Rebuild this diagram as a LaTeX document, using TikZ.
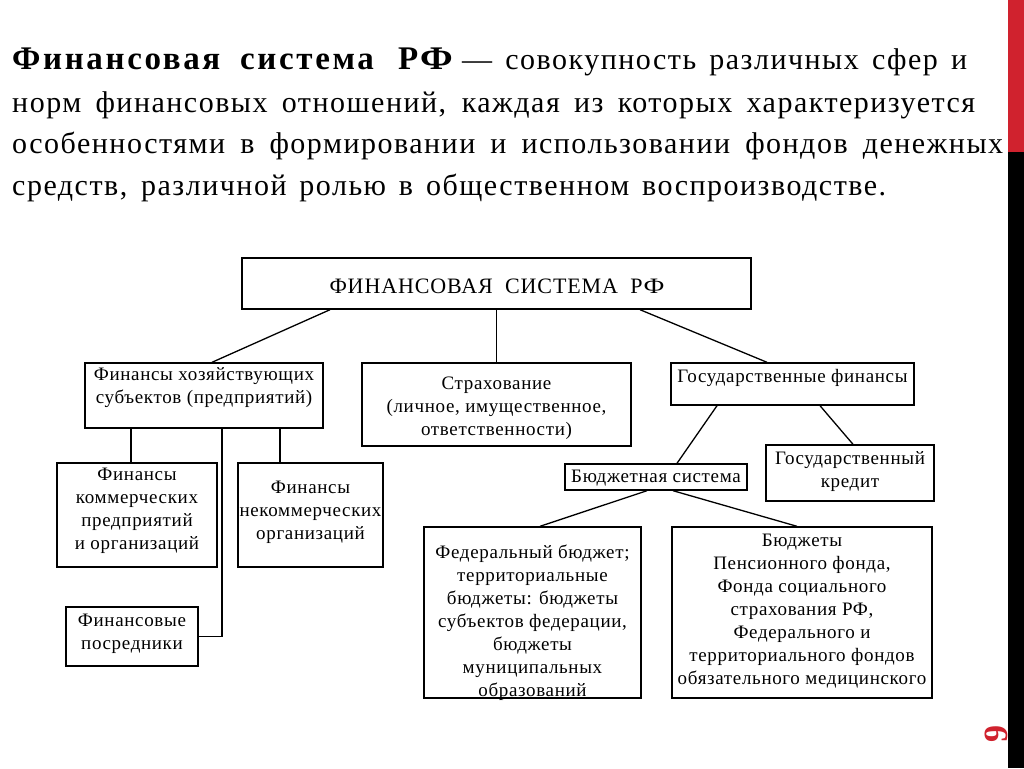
\documentclass[tikz,border=0pt]{standalone}
\usepackage{fontspec}
\usepackage{graphicx}
\setmainfont{Liberation Serif}
\newfontfamily\boxfont[LetterSpace=3.5]{Liberation Serif}
\newfontfamily\titfont[LetterSpace=4]{Liberation Serif}
\newfontfamily\hdfont[LetterSpace=5]{Liberation Serif}
\newfontfamily\hdbold[LetterSpace=8]{Liberation Serif Bold}
\definecolor{barred}{RGB}{208,34,46}
\begin{document}
\begin{tikzpicture}[x=1pt,y=-1pt,
  bx/.style={draw=black, line width=1.4pt, inner sep=0pt, rectangle},
  tx/.style={font=\boxfont\fontsize{19}{23}\selectfont, align=center, inner sep=0pt, text=black},
  hd/.style={anchor=base west, inner sep=0pt, font=\hdfont\fontsize{30}{30}\selectfont},
  hb/.style={anchor=base west, inner sep=0pt, font=\hdbold\fontsize{33}{33}\selectfont},
  ln/.style={draw=black, line width=1.3pt}]
\useasboundingbox (0,0) rectangle (1024,768);
\fill[white] (0,0) rectangle (1024,768);

% header text
\node[hb] (h1a) at (12,70) {Финансовая};
\node[hb] (h1c) at (240,70) {система};
\node[hb, anchor=base east] (h1d) at (453,70) {Р\kern2pt\scalebox{1.15}[1]{Ф}};
\node[hd] (h1b) at (462,70) {\makebox[505pt][s]{— совокупность различных сфер и}};
\node[hd] (h2) at (12,112) {\makebox[963pt][s]{норм финансовых отношений, каждая из которых характеризуется}};
\node[hd] (h3) at (12,153) {\makebox[991pt][s]{особенностями в формировании и использовании фондов денежных}};
\node[hd] (h4) at (12,195) {\makebox[874pt][s]{средств, различной ролью в общественном воспроизводстве.}};

% page number and side bar
\node[text=barred, font=\bfseries\fontsize{34}{34}\selectfont, rotate=90, inner sep=0pt] (pn) at (996,734) {9};
\fill[barred] (1008,0) rectangle (1024,152);
\fill[black] (1008,152) rectangle (1024,768);

% boxes
\node[bx, minimum width=509pt, minimum height=51pt] (top) at (496.5,283.5) {};
\node[bx, minimum width=238pt, minimum height=65pt] (hoz) at (204,395.5) {};
\node[bx, minimum width=269pt, minimum height=83pt] (str) at (496.5,404.5) {};
\node[bx, minimum width=243pt, minimum height=42pt] (gos) at (792.5,384) {};
\node[bx, minimum width=160pt, minimum height=104pt] (kom) at (137,515) {};
\node[bx, minimum width=145pt, minimum height=104pt] (nekom) at (310.5,515) {};
\node[bx, minimum width=132pt, minimum height=59pt] (posr) at (132,636.5) {};
\node[bx, minimum width=182pt, minimum height=26pt] (bud) at (656,477) {};
\node[bx, minimum width=168pt, minimum height=56pt] (kred) at (850,473) {};
\node[bx, minimum width=217pt, minimum height=171pt] (fed) at (532.5,612.5) {};
\node[bx, minimum width=260pt, minimum height=171pt] (pens) at (802,612.5) {};

% texts
\node[tx, font=\titfont\fontsize{22}{23}\selectfont] (ttop) at (497,286) {\makebox[335pt][s]{ФИНАНСОВАЯ СИСТЕМА Р\kern1pt\scalebox{1.2}[1]{Ф}}};
\node[tx] (thoz) at (204,388) {Финансы хозяйствующих\\субъектов (предприятий)};
\node[tx] (tstr) at (496.5,408) {Страхование\\(личное, имущественное,\\ответственности)};
\node[tx] (tgos) at (792.5,378) {Государственные финансы};
\node[tx] (tkom) at (137,511) {Финансы\\коммерческих\\предприятий\\и организаций};
\node[tx] (tnekom) at (310.5,512) {Финансы\\некоммерческих\\организаций};
\node[tx] (tposr) at (132,634) {Финансовые\\посредники};
\node[tx] (tbud) at (656,478) {Бюджетная система};
\node[tx] (tkred) at (850,472) {Государственный\\кредит};
\node[tx] (tfed) at (532.5,623) {Федеральный бюджет;\\территориальные\\бюджеты: бюджеты\\субъектов федерации,\\бюджеты\\муниципальных\\образований};
\node[tx] (tpens) at (802,611.5) {Бюджеты\\Пенсионного фонда,\\Фонда социального\\страхования РФ,\\Федерального и\\территориального фондов\\обязательного медицинского};

% connectors
\draw[ln] ([xshift=-166.5pt]top.south) -- ([xshift=8pt]hoz.north);
\draw[ln] (top.south) -- (str.north);
\draw[ln] ([xshift=143.5pt]top.south) -- ([xshift=-25.5pt]gos.north);
\draw[ln] ([xshift=-73pt]hoz.south) -- ([xshift=-6pt]kom.north);
\draw[ln] ([xshift=76pt]hoz.south) -- ([xshift=-30.5pt]nekom.north);
\draw[ln] ([xshift=18pt]hoz.south) |- (posr.east);
\draw[ln] ([xshift=-75.5pt]gos.south) -- ([xshift=21pt]bud.north);
\draw[ln] ([xshift=27.5pt]gos.south) -- ([xshift=3pt]kred.north);
\draw[ln] ([xshift=-9pt]bud.south) -- ([xshift=7.5pt]fed.north);
\draw[ln] ([xshift=17pt]bud.south) -- ([xshift=-5pt]pens.north);
\end{tikzpicture}
\end{document}
